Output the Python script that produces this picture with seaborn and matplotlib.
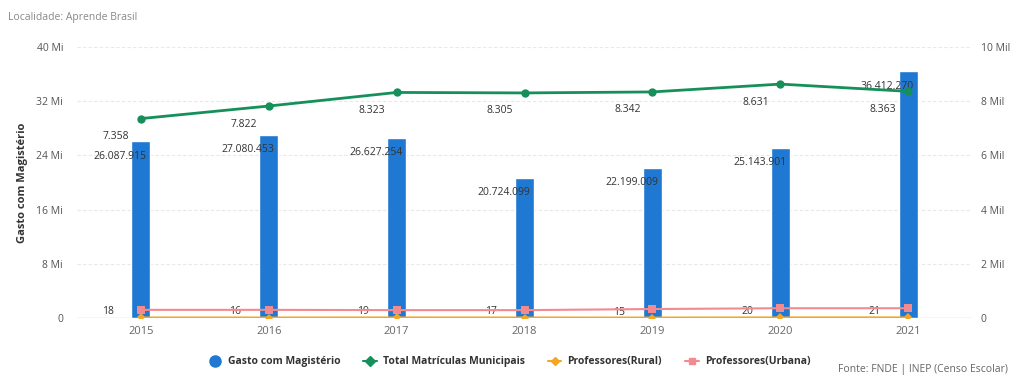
import matplotlib
matplotlib.use('Agg')
import matplotlib.pyplot as plt
from matplotlib.lines import Line2D
import seaborn as sns
import pandas as pd

anos = ['2015', '2016', '2017', '2018', '2019', '2020', '2021']
gasto = [26087915, 27080453, 26627254, 20724099, 22199009, 25143901, 36412270]
matriculas = [7358, 7822, 8323, 8305, 8342, 8631, 8363]
prof_rural = [18, 16, 19, 17, 15, 20, 21]
prof_urbana = [300, 300, 290, 290, 330, 360, 360]

azul = '#1f78d1'
verde = '#16905a'
laranja = '#f5a623'
rosa = '#f28a8f'

def br(v):
    return f"{v:,}".replace(",", ".")

sns.set_style('white')
plt.rcParams['font.family'] = ['Open Sans', 'DejaVu Sans']

df = pd.DataFrame({'ano': anos, 'gasto': gasto, 'matriculas': matriculas,
                   'rural': prof_rural, 'urbana': prof_urbana})
df['pos'] = range(len(anos))

fig = plt.figure(figsize=(10.18, 3.79), dpi=100)
ax = fig.add_axes([0.0756, 0.161, 0.8794, 0.715])
ax2 = ax.twinx()

sns.barplot(data=df, x='ano', y='gasto', color=azul, width=0.15, saturation=1, ax=ax, zorder=2)
ax.set_ylim(0, 40e6)
ax.set_xlim(-0.5, 6.5)
ax.set_yticks([0, 8e6, 16e6, 24e6, 32e6, 40e6])
ax.set_yticklabels(['0', '8 Mi', '16 Mi', '24 Mi', '32 Mi', '40 Mi'])
ax.grid(axis='y', color='#e8e8e8', lw=0.8, ls=(0, (3, 2)))
ax.set_axisbelow(True)
ax.set_xlabel('')
ax.set_ylabel('Gasto com Magistério', fontsize=8, fontweight='bold', color='#333333', labelpad=6)
ax.tick_params(axis='y', length=0, labelsize=7.5, labelcolor='#555555', pad=10)
ax.tick_params(axis='x', length=0, labelsize=8, labelcolor='#666666', pad=6)
for s in ax.spines.values():
    s.set_visible(False)
ax.axhline(0, color='#ccd6eb', lw=1, zorder=1)

for i, v in enumerate(gasto):
    ax.annotate(br(v), (i, v), xytext=(-15, -11), textcoords='offset points',
                ha='center', va='center', fontsize=7.5, color='#333333', zorder=5)

sns.lineplot(data=df, x='pos', y='matriculas', color=verde, lw=2, marker='o',
             markersize=6, markeredgewidth=0, ax=ax2, zorder=4)
sns.lineplot(data=df, x='pos', y='urbana', color=rosa, lw=1.5, marker='s',
             markersize=6, markeredgewidth=0, ax=ax2, zorder=4)
sns.lineplot(data=df, x='pos', y='rural', color=laranja, lw=1.5, marker='D',
             markersize=4, markeredgewidth=0, ax=ax2, zorder=4)
ax2.set_ylim(0, 10000)
ax2.set_xlim(-0.5, 6.5)
ax2.set_yticks([0, 2000, 4000, 6000, 8000, 10000])
ax2.set_yticklabels(['0', '2 Mil', '4 Mil', '6 Mil', '8 Mil', '10 Mil'])
ax2.tick_params(axis='y', length=0, labelsize=7.5, labelcolor='#555555', pad=6)
ax2.set_ylabel('')
ax2.set_xlabel('')
for s in ax2.spines.values():
    s.set_visible(False)

for i, v in enumerate(matriculas):
    ax2.annotate(br(v), (i, v), xytext=(-18, -13), textcoords='offset points',
                 ha='center', va='center', fontsize=7.5, color='#333333')
for i, v in enumerate(prof_rural):
    ax2.annotate(str(v), (i, v), xytext=(-24, 4), textcoords='offset points',
                 ha='center', va='center', fontsize=7.5, color='#333333')

fig.text(0.008, 0.955, 'Localidade: Aprende Brasil', fontsize=7.5, color='#888888', ha='left', va='center')
fig.text(0.99, 0.025, 'Fonte: FNDE | INEP (Censo Escolar)', fontsize=7.5, color='#666666', ha='right', va='center')

handles = [
    Line2D([], [], ls='none', marker='o', color=azul, markersize=8),
    Line2D([], [], color=verde, lw=1.5, marker='D', markersize=5),
    Line2D([], [], color=laranja, lw=1.5, marker='D', markersize=4),
    Line2D([], [], color=rosa, lw=1.5, marker='s', markersize=5),
]
labels = ['Gasto com Magistério', 'Total Matrículas Municipais', 'Professores(Rural)', 'Professores(Urbana)']
leg = fig.legend(handles, labels, loc='center', bbox_to_anchor=(0.5, 0.045), ncol=4, frameon=False,
                 fontsize=7.5, handlelength=1.3, columnspacing=2.2, handletextpad=0.6)
for t in leg.get_texts():
    t.set_color('#333333')
    t.set_fontweight('bold')

fig.savefig('out.png', dpi=100)
